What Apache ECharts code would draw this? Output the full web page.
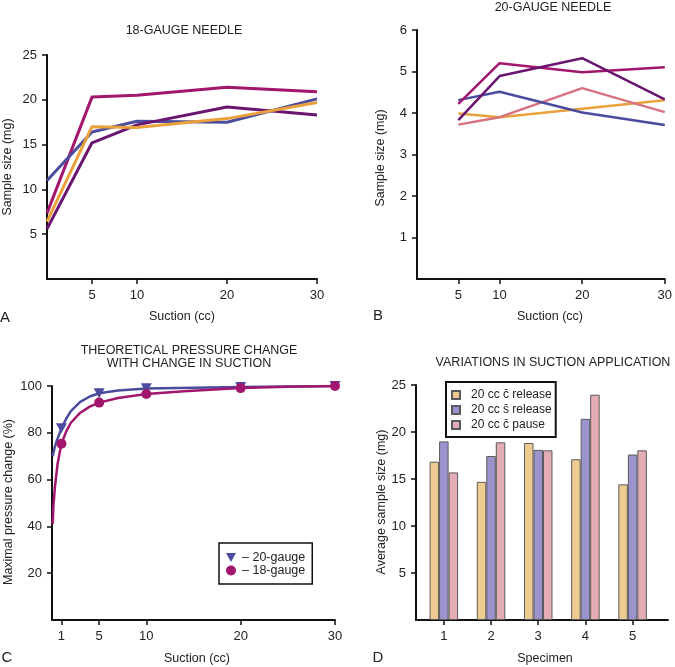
<!DOCTYPE html>
<html>
<head>
<meta charset="utf-8">
<script src="https://cdn.jsdelivr.net/npm/echarts@6/dist/echarts.min.js"></script>
<style>
html,body{margin:0;padding:0;background:#fff;}
#chart{width:675px;height:667px;}
</style>
</head>
<body>
<div id="chart"></div>
<script>
// ---------- DATA ----------
// Panel A: 18-gauge needle
const suctionA = [0, 5, 10, 20, 30];
const a18Magenta = [7.35, 20.3, 20.5, 21.4, 20.9];
const a18Blue = [11.0, 16.4, 17.6, 17.5, 20.1];
const a18Orange = [6.4, 17.0, 16.9, 17.9, 19.7];
const a18Purple = [5.6, 15.2, 17.2, 19.2, 18.3];
const ticksAx = [5, 10, 20, 30];
const ticksAy = [5, 10, 15, 20, 25];

// Panel B: 20-gauge needle
const suctionB = [5, 10, 20, 30];
const b20Magenta = [4.22, 5.2, 4.98, 5.1];
const b20Purple = [3.83, 4.89, 5.32, 4.33];
const b20Blue = [4.31, 4.51, 4.01, 3.71];
const b20Orange = [3.99, 3.9, 4.1, 4.31];
const b20Pink = [3.72, 3.9, 4.6, 4.02];
const ticksBx = [5, 10, 20, 30];
const ticksBy = [1, 2, 3, 4, 5, 6];

// Panel C: theoretical pressure change
const suctionC = [1, 5, 10, 20, 30];
const c20gauge = [81.9, 96.9, 99.0, 99.6, 100];
const c18gauge = [75.3, 92.9, 96.6, 99.1, 100];
const curve20x = [0.07, 0.3, 0.5, 1, 1.5, 2, 3, 4, 5, 7, 10, 15, 20, 30];
const curve20y = [70, 74, 76.5, 81.9, 86, 89.3, 93.2, 95.5, 96.9, 98.1, 98.9, 99.3, 99.6, 100];
const curve18x = [0.07, 0.15, 0.3, 0.6, 1, 1.5, 2, 3, 4, 5, 7, 10, 14, 20, 25, 30];
const curve18y = [41, 48.5, 56.5, 67, 75.3, 80.5, 84.3, 88.6, 91.2, 92.9, 94.9, 96.6, 97.8, 99.1, 99.7, 100];
const ticksCx = [1, 5, 10, 20, 30];
const ticksCy = [20, 40, 60, 80, 100];

// Panel D: variations in suction application
const specimens = [1, 2, 3, 4, 5];
const cRelease = [16.84, 14.7, 18.83, 17.1, 14.43];
const sRelease = [19.0, 17.45, 18.1, 21.4, 17.6];
const cPause = [15.7, 18.9, 18.05, 23.97, 18.05];
const ticksDy = [5, 10, 15, 20, 25];

// ---------- HELPERS ----------
const FONT = 'Liberation Sans, Arial, sans-serif';
const TXT = '#222';
function pairs(xs, ys){ return xs.map((x,i)=>[x, ys[i]]); }
function axisCfg(gridIndex, min, max, ticks){
  return {
    type:'value', gridIndex, min, max,
    axisLine:{show:true, onZero:false, lineStyle:{color:'#111', width:2}},
    axisTick:{show:true, customValues:ticks, length:5, lineStyle:{color:'#111', width:1.5}},
    axisLabel:{show:true, customValues:ticks, color:TXT, fontSize:13, fontFamily:FONT, margin:10},
    splitLine:{show:false}
  };
}
function lineS(name, xi, yi, xs, ys, color, w){
  return {type:'line', name, xAxisIndex:xi, yAxisIndex:yi, data:pairs(xs, ys),
    showSymbol:false, symbol:'none', lineStyle:{color, width:w, join:'round'}, itemStyle:{color}, silent:true, z:2};
}
function text(x, y, t, opts){
  return Object.assign({type:'text', x, y, style:{text:t, fill:TXT, font:'12.5px ' + FONT, align:'center', verticalAlign:'middle'}}, opts||{});
}

const MAG = '#A3166E', PUR = '#6A1570', BLU = '#4B4C9E', ORA = '#E9A23B', PNK = '#D8727E';

const chart = echarts.init(document.getElementById('chart'), null, {renderer:'canvas'});
chart.setOption({
  animation:false,
  backgroundColor:'#fff',
  textStyle:{fontFamily:FONT},
  grid:[
    {left:47, top:55, width:270, height:224},
    {left:417, top:30, width:250, height:249},
    {left:52, top:386, width:283, height:234},
    {left:416, top:385, width:252, height:235}
  ],
  xAxis:[
    axisCfg(0, 0, 30, ticksAx),
    axisCfg(1, 0, 30, ticksBx),
    axisCfg(2, 0, 30, ticksCx),
    axisCfg(3, 0.41, 5.75, specimens)
  ],
  yAxis:[
    axisCfg(0, 0, 25, ticksAy),
    axisCfg(1, 0, 6, ticksBy),
    axisCfg(2, 0, 100, ticksCy),
    axisCfg(3, 0, 25, ticksDy)
  ],
  legend:[
    {
      left:219, top:543, orient:'vertical',
      data:[{name:'– 20-gauge', icon:'path://M0,0L10,0L5,9Z'}, {name:'– 18-gauge', icon:'circle'}],
      itemWidth:10, itemHeight:10, itemGap:0,
      padding:[8,7,7,7],
      borderColor:'#111', borderWidth:1.5, borderRadius:0,
      textStyle:{color:TXT, fontSize:12.5, fontFamily:FONT, padding:[0,0,0,1]},
      selectedMode:false
    },
    {
      left:446, top:382, orient:'vertical',
      data:['20 cc c\u0304 release', '20 cc s\u0304 release', '20 cc c\u0304 pause'],
      icon:'rect', itemWidth:8, itemHeight:8, itemGap:3,
      padding:[7,4,6,5],
      borderColor:'#111', borderWidth:2, borderRadius:0,
      textStyle:{color:TXT, fontSize:12, fontFamily:FONT, padding:[0,0,0,6]},
      selectedMode:false
    }
  ],
  series:[
    // A
    lineS('A magenta', 0, 0, suctionA, a18Magenta, MAG, 3),
    lineS('A blue', 0, 0, suctionA, a18Blue, BLU, 3),
    lineS('A purple', 0, 0, suctionA, a18Purple, PUR, 3),
    lineS('A orange', 0, 0, suctionA, a18Orange, ORA, 3),
    // B
    lineS('B orange', 1, 1, suctionB, b20Orange, ORA, 2.5),
    lineS('B pink', 1, 1, suctionB, b20Pink, PNK, 2.5),
    lineS('B blue', 1, 1, suctionB, b20Blue, BLU, 2.5),
    lineS('B magenta', 1, 1, suctionB, b20Magenta, MAG, 2.5),
    lineS('B purple', 1, 1, suctionB, b20Purple, PUR, 2.5),
    // C curves
    lineS('C curve 20', 2, 2, curve20x, curve20y, BLU, 2.5),
    lineS('C curve 18', 2, 2, curve18x, curve18y, MAG, 2.5),
    {type:'scatter', name:'– 20-gauge', xAxisIndex:2, yAxisIndex:2, data:pairs(suctionC, c20gauge),
      symbol:'path://M0,0L10,0L5,9Z', symbolSize:[11,10], itemStyle:{color:BLU, opacity:1}, z:3},
    {type:'scatter', name:'– 18-gauge', xAxisIndex:2, yAxisIndex:2, data:pairs(suctionC, c18gauge),
      symbol:'circle', symbolSize:10, itemStyle:{color:MAG, opacity:1}, z:4},
    // D bars
    {type:'bar', name:'20 cc c\u0304 release', xAxisIndex:3, yAxisIndex:3, data:pairs(specimens, cRelease),
      barWidth:9.5, barGap:'0%', itemStyle:{color:'#EECB90', borderColor:'#5a5a5a', borderWidth:1}},
    {type:'bar', name:'20 cc s\u0304 release', xAxisIndex:3, yAxisIndex:3, data:pairs(specimens, sRelease),
      barWidth:9.5, barGap:'0%', itemStyle:{color:'#9B93CC', borderColor:'#5a5a5a', borderWidth:1}},
    {type:'bar', name:'20 cc c\u0304 pause', xAxisIndex:3, yAxisIndex:3, data:pairs(specimens, cPause),
      barWidth:9.5, barGap:'0%', itemStyle:{color:'#E4ADB6', borderColor:'#5a5a5a', borderWidth:1}}
  ],
  graphic:[
    text(184, 31, '18-GAUGE NEEDLE'),
    text(553, 8, '20-GAUGE NEEDLE'),
    text(189, 351, 'THEORETICAL PRESSURE CHANGE'),
    text(189, 364, 'WITH CHANGE IN SUCTION'),
    text(553, 363, 'VARIATIONS IN SUCTION APPLICATION'),
    text(182, 317, 'Suction (cc)'),
    text(550, 317, 'Suction (cc)'),
    text(197, 659, 'Suction (cc)'),
    text(545, 659, 'Specimen'),
    text(8, 167, 'Sample size (mg)', {rotation:Math.PI/2}),
    text(381, 158, 'Sample size (mg)', {rotation:Math.PI/2}),
    text(9, 502, 'Maximal pressure change (%)', {rotation:Math.PI/2}),
    text(382, 502, 'Average sample size (mg)', {rotation:Math.PI/2}),
    {type:'text', x:5, y:318, style:{text:'A', fill:TXT, font:'15px ' + FONT, align:'center', verticalAlign:'middle'}},
    {type:'text', x:378, y:316, style:{text:'B', fill:TXT, font:'15px ' + FONT, align:'center', verticalAlign:'middle'}},
    {type:'text', x:7, y:658, style:{text:'C', fill:TXT, font:'15px ' + FONT, align:'center', verticalAlign:'middle'}},
    {type:'text', x:378, y:658, style:{text:'D', fill:TXT, font:'15px ' + FONT, align:'center', verticalAlign:'middle'}}
  ]
});
</script>
</body>
</html>
